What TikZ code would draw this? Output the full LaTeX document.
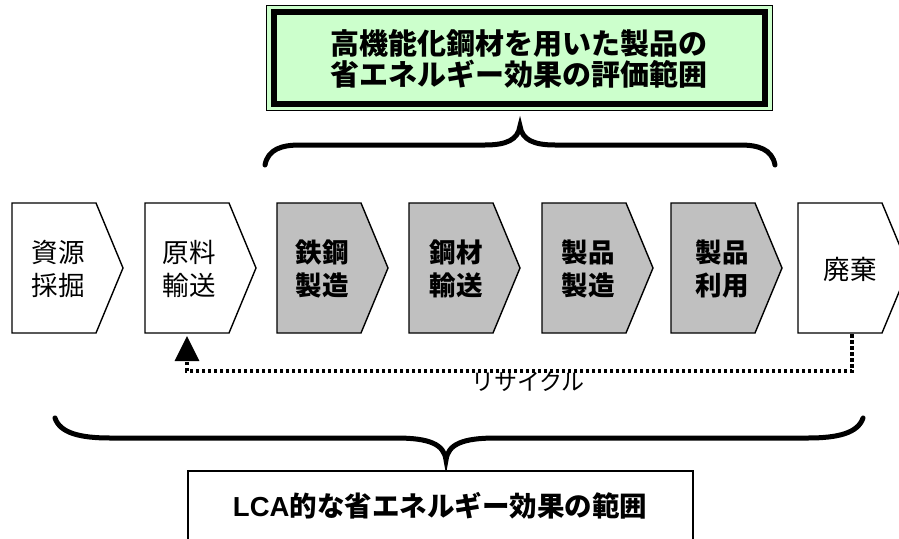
\documentclass[tikz,border=0pt]{standalone}
\usepackage{fontspec}
\setmainfont{Noto Sans CJK JP}
\newfontfamily\latinsans{Liberation Sans}
\usetikzlibrary{arrows.meta}
\definecolor{lgreen}{HTML}{CCFFCC}
\definecolor{chevgray}{HTML}{C0C0C0}
\tikzset{
  chevshape/.style={draw=black, line width=1.4pt, line join=miter},
  lbl/.style={font=\fontsize{26.5}{33}\selectfont, align=center, inner sep=0pt},
  blbl/.style={lbl, font=\fontsize{26.5}{33}\selectfont\bfseries},
  brace/.style={draw=black, line width=5pt, line cap=round},
  recyc/.style={draw=black, line width=3.5pt, dash pattern=on 3.5pt off 2.5pt},
}
\newcommand\chevpath[2]{%
  \draw[chevshape, fill=#2] (#1,203) -- ++(84,0) -- ++(27,65) -- ++(-27,65) -- ++(-84,0) -- cycle;}
\begin{document}
\begin{tikzpicture}[x=1pt,y=-1pt]
\useasboundingbox (0,0) rectangle (899,538);
\begin{scope}
\clip (0,0) rectangle (899,538);
% top title box
\draw[fill=lgreen, draw=black, line width=1pt] (266,5) rectangle (772,110);
\draw[draw=black, line width=6pt] (273.5,12) rectangle (764.5,103.5);
\node[align=center, inner sep=0pt, font=\fontsize{29}{31}\selectfont\bfseries] (title) at (519,58.5) {高機能化鋼材を用いた製品の\\省エネルギー効果の評価範囲};
% top brace
\draw[brace] (265,165) .. controls (268,149) and (282,145) .. (300,145) -- (485,145) .. controls (506,145) and (518,140) .. (520,126) .. controls (522,140) and (534,145) .. (555,145) -- (740,145) .. controls (758,145) and (772,149) .. (775,165);
% chevrons
\chevpath{12}{white}
\chevpath{145}{white}
\chevpath{277}{chevgray}
\chevpath{409}{chevgray}
\chevpath{542}{chevgray}
\chevpath{671}{chevgray}
\chevpath{798}{white}
\node[lbl] (s1) at (58,269) {資源\\採掘};
\node[lbl] (s2) at (189,269) {原料\\輸送};
\node[blbl] (s3) at (322,269) {鉄鋼\\製造};
\node[blbl] (s4) at (456,269) {鋼材\\輸送};
\node[blbl] (s5) at (588,269) {製品\\製造};
\node[blbl] (s6) at (722,269) {製品\\利用};
\node[lbl] (s7) at (850,269) {廃棄};
% recycle connector
\coordinate (from) at (852,334);
\coordinate (to) at (187,336);
\draw[recyc, -{Triangle[length=25pt,width=24pt]}] (from) -- (852,371) -| (to);
\node[inner sep=0pt, font=\fontsize{23}{23}\selectfont] (rec) at (528,382) {リサイクル};
% bottom brace
\draw[brace] (55,418) .. controls (60,433) and (80,438) .. (110,438) -- (396,438) .. controls (429,438) and (444,444) .. (446,460) .. controls (448,444) and (463,438) .. (496,438) -- (808,438) .. controls (838,438) and (858,433) .. (863,418);
% bottom box
\draw[fill=white, draw=black, line width=2pt] (188,471) rectangle (693,560);
\node[inner sep=0pt, font=\fontsize{27.5}{27.5}\selectfont\bfseries] (lca) at (440,506) {{\latinsans\bfseries LCA}的な省エネルギー効果の範囲};
\end{scope}
\end{tikzpicture}
\end{document}
